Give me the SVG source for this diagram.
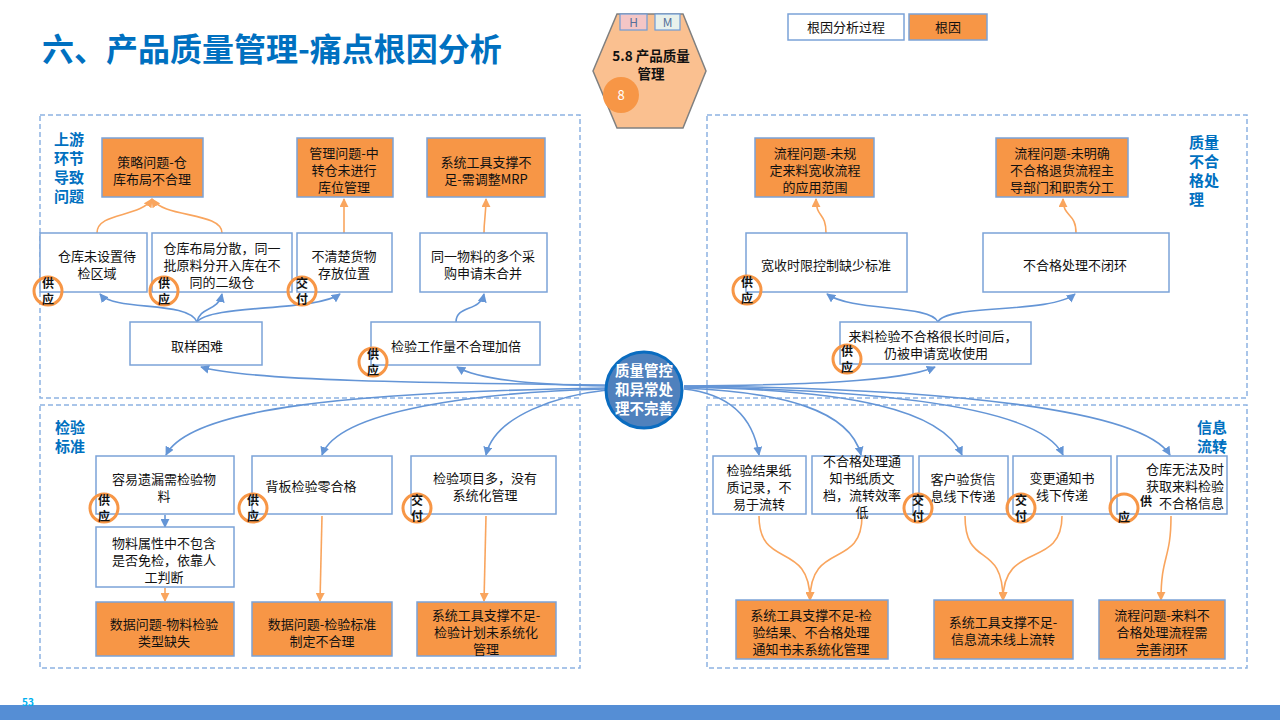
<svg xmlns="http://www.w3.org/2000/svg" width="1280" height="720" viewBox="0 0 1280 720">
<style>
text{font-family:"Noto Sans CJK SC","Noto Sans",sans-serif;}
.sec{fill:none;stroke:#8DB3E2;stroke-width:1.5;stroke-dasharray:5 3;}
.wb{fill:#fff;stroke:#7BA3D8;stroke-width:1.5;}
.ob{fill:#F79646;stroke:#7BA3D8;stroke-width:1.5;}
.t{font-size:13px;fill:#111;text-anchor:middle;}
.lbl{font-size:15px;font-weight:bold;fill:#0070C0;}
.bc{fill:none;stroke:#F79646;stroke-width:3;}
.bt{font-size:12px;font-weight:bold;fill:#111;text-anchor:middle;}
.cb{fill:none;stroke:#6495D6;stroke-width:1.6;marker-end:url(#ab);}
.co{fill:none;stroke:#F9A55E;stroke-width:1.6;marker-end:url(#ao);}
.ct{font-size:14.5px;font-weight:bold;fill:#fff;text-anchor:middle;}
.ht{font-size:13.5px;font-weight:bold;fill:#111;text-anchor:middle;}
</style>
<defs>
<marker id="ab" viewBox="0 0 10 10" refX="9" refY="5" markerWidth="9" markerHeight="9" markerUnits="userSpaceOnUse" orient="auto"><path d="M0,0 L10,5 L0,10 z" fill="#6495D6"/></marker>
<marker id="ao" viewBox="0 0 10 10" refX="9" refY="5" markerWidth="9" markerHeight="9" markerUnits="userSpaceOnUse" orient="auto"><path d="M0,0 L10,5 L0,10 z" fill="#F9A55E"/></marker>
</defs>
<rect width="1280" height="720" fill="#fff"/>

<g id="title">
<text x="42" y="61" font-size="32" font-weight="bold" fill="#0070C0">六、产品质量管理-痛点根因分析</text>
</g>

<g id="hex">
<polygon points="593,71 617,14 683,14 706,71 683,128 617,128" fill="#FAC090" stroke="#808080" stroke-width="1.5"/>
<rect x="620" y="14" width="27" height="16" fill="#F4C6C6" stroke="#6D9BD8" stroke-width="1.2"/>
<text x="633.5" y="27" font-size="12" fill="#55709A" text-anchor="middle">H</text>
<rect x="655" y="14" width="25" height="16" fill="#E8F1EC" stroke="#6D9BD8" stroke-width="1.2"/>
<text x="667.5" y="27" font-size="12" fill="#55709A" text-anchor="middle">M</text>
<text class="ht" x="651" y="61">5.8 产品质量</text>
<text class="ht" x="651" y="79">管理</text>
<circle cx="621" cy="95" r="18" fill="#F79646"/>
<text x="621" y="100" font-size="13" fill="#fff" text-anchor="middle">8</text>
</g>

<g id="legend">
<rect x="788" y="14" width="116" height="26" class="wb"/>
<text x="846" y="32" class="t">根因分析过程</text>
<rect x="909" y="14" width="78" height="26" class="ob"/>
<text x="948" y="32" class="t">根因</text>
</g>

<g id="sections">
<rect x="40" y="115" width="540" height="283" class="sec"/>
<rect x="707" y="115" width="540" height="283" class="sec"/>
<rect x="40" y="405" width="540" height="263" class="sec"/>
<rect x="707" y="405" width="540" height="263" class="sec"/>
<text class="lbl" x="54" y="145">上游</text>
<text class="lbl" x="54" y="164">环节</text>
<text class="lbl" x="54" y="183">导致</text>
<text class="lbl" x="54" y="202">问题</text>
<text class="lbl" x="1189" y="148">质量</text>
<text class="lbl" x="1189" y="167">不合</text>
<text class="lbl" x="1189" y="186">格处</text>
<text class="lbl" x="1189" y="205">理</text>
<text class="lbl" x="55" y="433">检验</text>
<text class="lbl" x="55" y="452">标准</text>
<text class="lbl" x="1197" y="433">信息</text>
<text class="lbl" x="1197" y="452">流转</text>
</g>

<g id="connectors">
<path class="cb" d="M606,385 C 430,383 250,381 201,367"/>
<path class="cb" d="M606,386 C 540,385 480,381 457,367"/>
<path class="cb" d="M606,388 C 350,392 190,408 166,455"/>
<path class="cb" d="M606,389 C 480,392 338,410 322,455"/>
<path class="cb" d="M607,390 C 560,395 495,415 486,455"/>
<path class="cb" d="M684,386 C 800,385 900,382 935,367"/>
<path class="cb" d="M684,389 C 722,393 752,410 759,455"/>
<path class="cb" d="M684,388 C 782,392 850,410 861,455"/>
<path class="cb" d="M684,387 C 852,390 942,410 962,455"/>
<path class="cb" d="M684,387 C 902,390 1042,410 1063,455"/>
<path class="cb" d="M684,386 C 952,388 1142,410 1170,455"/>
<path class="cb" d="M197,322 C 188,300 115,312 100,294"/>
<path class="cb" d="M197,322 C 200,306 218,312 222,294"/>
<path class="cb" d="M197,322 C 210,304 315,312 340,294"/>
<path class="cb" d="M456,322 C 456,305 480,312 484,294"/>
<path class="cb" d="M938,322 C 930,304 852,312 827,294"/>
<path class="cb" d="M938,322 C 946,304 1050,314 1075,294"/>
<path class="cb" d="M165,515 L165,527"/>
<path class="co" d="M97,233 C 97,212 140,218 152,199"/>
<path class="co" d="M222,233 C 222,212 164,218 152,199"/>
<path class="co" d="M344,233 L344,199"/>
<path class="co" d="M484,233 C 484,220 486,214 486,199"/>
<path class="co" d="M826,233 C 826,212 816,218 816,199"/>
<path class="co" d="M1076,233 C 1076,212 1063,218 1063,199"/>
<path class="co" d="M165,588 L165,601"/>
<path class="co" d="M322,516 L320,601"/>
<path class="co" d="M486,516 L484,601"/>
<path class="co" d="M759,516 C 759,570 810,540 810,600"/>
<path class="co" d="M862,516 C 862,570 810,540 810,600"/>
<path class="co" d="M965,516 C 965,570 1003,540 1003,600"/>
<path class="co" d="M1062,516 C 1062,570 1003,540 1003,600"/>
<path class="co" d="M1171,516 C 1171,560 1161,555 1161,600"/>
</g>

<g id="n_clwt">
<rect x="102" y="138" width="101" height="59" class="ob"/>
<text class="t" x="152" y="167">策略问题-仓</text>
<text class="t" x="152" y="184">库布局不合理</text>
</g>
<g id="n_glwt">
<rect x="297" y="138" width="96" height="59" class="ob"/>
<text class="t" x="344" y="158">管理问题-中</text>
<text class="t" x="344" y="175">转仓未进行</text>
<text class="t" x="344" y="192">库位管理</text>
</g>
<g id="n_mrp">
<rect x="427" y="138" width="118" height="59" class="ob"/>
<text class="t" x="486" y="167">系统工具支撑不</text>
<text class="t" x="486" y="184">足-需调整MRP</text>
</g>
<g id="n_djq">
<rect x="40" y="233" width="107" height="59" class="wb"/>
<text class="t" x="97" y="261">仓库未设置待</text>
<text class="t" x="97" y="278">检区域</text>
<circle class="bc" cx="48" cy="291" r="14"/>
<text class="bt" x="48" y="288">供</text>
<text class="bt" x="48" y="304">应</text>
</g>
<g id="n_fs">
<rect x="152" y="233" width="140" height="59" class="wb"/>
<text class="t" x="222" y="253">仓库布局分散，同一</text>
<text class="t" x="222" y="270">批原料分开入库在不</text>
<text class="t" x="222" y="287">同的二级仓</text>
<circle class="bc" cx="164" cy="291" r="14"/>
<text class="bt" x="164" y="288">供</text>
<text class="bt" x="164" y="304">应</text>
</g>
<g id="n_bqc">
<rect x="297" y="233" width="95" height="59" class="wb"/>
<text class="t" x="344" y="261">不清楚货物</text>
<text class="t" x="344" y="278">存放位置</text>
<circle class="bc" cx="302" cy="291" r="14"/>
<text class="bt" x="302" y="288">交</text>
<text class="bt" x="302" y="304">付</text>
</g>
<g id="n_tywl">
<rect x="420" y="233" width="127" height="59" class="wb"/>
<text class="t" x="483" y="261">同一物料的多个采</text>
<text class="t" x="483" y="278">购申请未合并</text>
</g>
<g id="n_qykn">
<rect x="130" y="322" width="132" height="43" class="wb"/>
<text class="t" x="197" y="351">取样困难</text>
</g>
<g id="n_gzl">
<rect x="371" y="322" width="169" height="43" class="wb"/>
<text class="t" x="456" y="351">检验工作量不合理加倍</text>
<circle class="bc" cx="373" cy="362" r="14"/>
<text class="bt" x="373" y="359">供</text>
<text class="bt" x="373" y="375">应</text>
</g>

<g id="n_lc1">
<rect x="755" y="138" width="119" height="59" class="ob"/>
<text class="t" x="815" y="158">流程问题-未规</text>
<text class="t" x="815" y="175">定来料宽收流程</text>
<text class="t" x="815" y="192">的应用范围</text>
</g>
<g id="n_lc2">
<rect x="996" y="138" width="132" height="59" class="ob"/>
<text class="t" x="1062" y="158">流程问题-未明确</text>
<text class="t" x="1062" y="175">不合格退货流程主</text>
<text class="t" x="1062" y="192">导部门和职责分工</text>
</g>
<g id="n_ks">
<rect x="746" y="233" width="161" height="59" class="wb"/>
<text class="t" x="826" y="270">宽收时限控制缺少标准</text>
<circle class="bc" cx="747" cy="290" r="14"/>
<text class="bt" x="747" y="287">供</text>
<text class="bt" x="747" y="303">应</text>
</g>
<g id="n_bbh">
<rect x="983" y="233" width="186" height="59" class="wb"/>
<text class="t" x="1075" y="270">不合格处理不闭环</text>
</g>
<g id="n_lljy">
<rect x="840" y="322" width="191" height="42" class="wb"/>
<text class="t" x="933" y="341">来料检验不合格很长时间后，</text>
<text class="t" x="936" y="358">仍被申请宽收使用</text>
<circle class="bc" cx="847" cy="359" r="14"/>
<text class="bt" x="847" y="356">供</text>
<text class="bt" x="847" y="372">应</text>
</g>

<g id="n_yl">
<rect x="96" y="456" width="138" height="58" class="wb"/>
<text class="t" x="164" y="484">容易遗漏需检验物</text>
<text class="t" x="164" y="501">料</text>
<circle class="bc" cx="104" cy="508" r="14"/>
<text class="bt" x="104" y="505">供</text>
<text class="bt" x="104" y="521">应</text>
</g>
<g id="n_sx">
<rect x="96" y="527" width="138" height="60" class="wb"/>
<text class="t" x="164" y="548">物料属性中不包含</text>
<text class="t" x="164" y="565">是否免检，依靠人</text>
<text class="t" x="164" y="582">工判断</text>
</g>
<g id="n_sj1">
<rect x="96" y="602" width="138" height="54" class="ob"/>
<text class="t" x="164" y="629">数据问题-物料检验</text>
<text class="t" x="164" y="646">类型缺失</text>
</g>
<g id="n_bb">
<rect x="252" y="456" width="140" height="58" class="wb"/>
<text class="t" x="311" y="491">背板检验零合格</text>
<circle class="bc" cx="253" cy="508" r="14"/>
<text class="bt" x="253" y="505">供</text>
<text class="bt" x="253" y="521">应</text>
</g>
<g id="n_sj2">
<rect x="252" y="602" width="140" height="54" class="ob"/>
<text class="t" x="322" y="629">数据问题-检验标准</text>
<text class="t" x="322" y="646">制定不合理</text>
</g>
<g id="n_xm">
<rect x="411" y="456" width="145" height="58" class="wb"/>
<text class="t" x="485" y="483">检验项目多，没有</text>
<text class="t" x="485" y="500">系统化管理</text>
<circle class="bc" cx="417" cy="508" r="14"/>
<text class="bt" x="417" y="505">交</text>
<text class="bt" x="417" y="521">付</text>
</g>
<g id="n_xt1">
<rect x="417" y="602" width="139" height="54" class="ob"/>
<text class="t" x="486" y="620">系统工具支撑不足-</text>
<text class="t" x="486" y="637">检验计划未系统化</text>
<text class="t" x="486" y="654">管理</text>
</g>

<g id="n_jg">
<rect x="713" y="456" width="93" height="58" class="wb"/>
<text class="t" x="759" y="475">检验结果纸</text>
<text class="t" x="759" y="492">质记录，不</text>
<text class="t" x="759" y="509">易于流转</text>
</g>
<g id="n_tzs">
<rect x="812" y="456" width="101" height="58" class="wb"/>
<text class="t" x="862" y="466">不合格处理通</text>
<text class="t" x="862" y="483">知书纸质文</text>
<text class="t" x="862" y="500">档，流转效率</text>
<text class="t" x="862" y="517">低</text>
</g>
<g id="n_kh">
<rect x="919" y="456" width="89" height="58" class="wb"/>
<text class="t" x="963" y="484">客户验货信</text>
<text class="t" x="963" y="501">息线下传递</text>
<circle class="bc" cx="918" cy="508" r="14"/>
<text class="bt" x="918" y="505">交</text>
<text class="bt" x="918" y="521">付</text>
</g>
<g id="n_bg">
<rect x="1013" y="456" width="98" height="58" class="wb"/>
<text class="t" x="1062" y="483">变更通知书</text>
<text class="t" x="1062" y="500">线下传递</text>
<circle class="bc" cx="1021" cy="508" r="14"/>
<text class="bt" x="1021" y="505">交</text>
<text class="bt" x="1021" y="521">付</text>
</g>
<g id="n_ck">
<rect x="1117" y="456" width="110" height="58" class="wb"/>
<text class="t" x="1224" y="474" style="text-anchor:end">仓库无法及时</text>
<text class="t" x="1224" y="491" style="text-anchor:end">获取来料检验</text>
<text class="t" x="1224" y="508" style="text-anchor:end">不合格信息</text>
<circle class="bc" cx="1124" cy="508" r="14"/>
<text class="bt" x="1146" y="506">供</text>
<text class="bt" x="1124" y="522">应</text>
</g>
<g id="n_xt2">
<rect x="736" y="600" width="152" height="59" class="ob"/>
<text class="t" x="811" y="620">系统工具支撑不足-检</text>
<text class="t" x="811" y="637">验结果、不合格处理</text>
<text class="t" x="811" y="654">通知书未系统化管理</text>
</g>
<g id="n_xt3">
<rect x="934" y="600" width="139" height="59" class="ob"/>
<text class="t" x="1003" y="627">系统工具支撑不足-</text>
<text class="t" x="1003" y="644">信息流未线上流转</text>
</g>
<g id="n_lc3">
<rect x="1099" y="600" width="126" height="59" class="ob"/>
<text class="t" x="1162" y="620">流程问题-来料不</text>
<text class="t" x="1162" y="637">合格处理流程需</text>
<text class="t" x="1162" y="654">完善闭环</text>
</g>

<g id="center">
<circle cx="644" cy="390" r="38" fill="#4F81BD" stroke="#0A6CC0" stroke-width="3"/>
<text class="ct" x="644" y="376">质量管控</text>
<text class="ct" x="644" y="395">和异常处</text>
<text class="ct" x="644" y="414">理不完善</text>
</g>

<g id="footer">
<rect x="0" y="705" width="1280" height="15" fill="#558ED5"/>
<text x="22" y="706" font-size="10" font-weight="bold" fill="#00B0F0">53</text>
</g>
</svg>
